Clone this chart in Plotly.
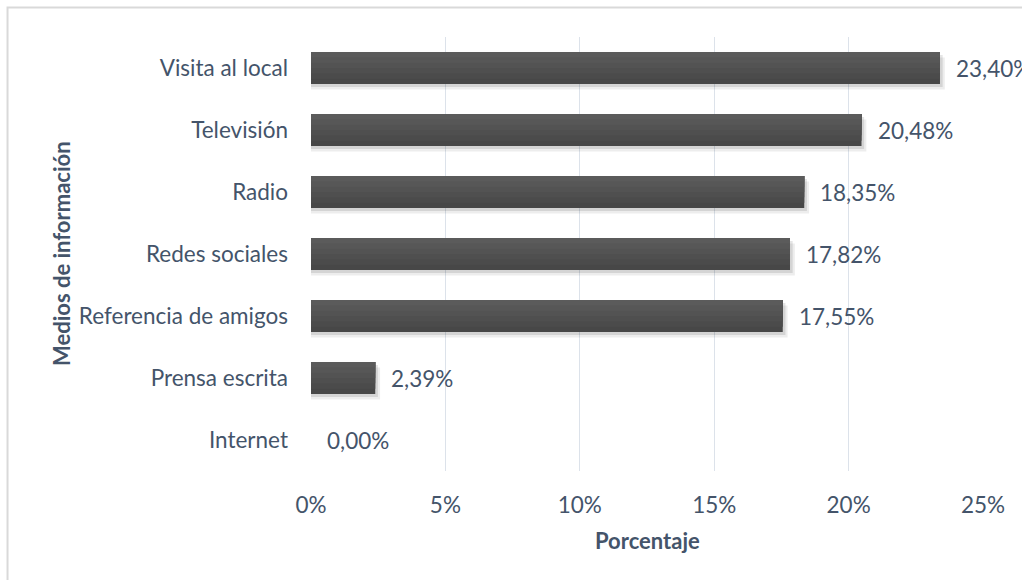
import plotly.graph_objects as go

# Information channels and share of respondents (%)
categorias = [
    "Visita al local",
    "Televisión",
    "Radio",
    "Redes sociales",
    "Referencia de amigos",
    "Prensa escrita",
    "Internet",
]
porcentajes = [23.40, 20.48, 18.35, 17.82, 17.55, 2.39, 0.00]
ticks_x = [0, 5, 10, 15, 20, 25]

TEXTO = "#44546A"
FUENTE = "Lato, 'Open Sans', sans-serif"
TAM = 22.5
ANCHO = 0.516

fig = go.Figure()

# soft drop shadow below each bar
for off, ext, alpha in [(0.09, 0.18, 0.07), (0.05, 0.10, 0.10)]:
    fig.add_trace(go.Bar(
        y=categorias,
        x=[v + ext if v > 0 else 0 for v in porcentajes],
        orientation="h",
        width=ANCHO,
        offset=-ANCHO / 2 + off,
        marker=dict(color=f"rgba(0,0,0,{alpha})", line=dict(width=0)),
        hoverinfo="skip",
        showlegend=False,
    ))

# bar body with a light-to-dark vertical gradient
tonos = ["#474747", "#4b4b4b", "#4f4f4f", "#535353", "#575757", "#5b5b5b"]
n = len(tonos)
for i, tono in enumerate(tonos):
    frac = 1 - i / n
    fig.add_trace(go.Bar(
        y=categorias,
        x=porcentajes,
        orientation="h",
        width=ANCHO * frac,
        offset=-ANCHO / 2,
        marker=dict(color=tono, line=dict(width=0)),
        hoverinfo="skip",
        showlegend=False,
    ))

# value labels
for cat, val in zip(categorias, porcentajes):
    fig.add_annotation(
        x=val, y=cat, xref="x", yref="y",
        text=f"{val:.2f}%".replace(".", ","),
        showarrow=False, xanchor="left", yanchor="middle", xshift=14,
        font=dict(family=FUENTE, size=TAM, color=TEXTO),
    )

# axis titles
fig.add_annotation(
    x=0.5, y=-0.159, xref="paper", yref="paper",
    text="<b>Porcentaje</b>", showarrow=False,
    xanchor="center", yanchor="middle",
    font=dict(family=FUENTE, size=22, color=TEXTO),
)
fig.add_annotation(
    x=-0.372, y=0.5, xref="paper", yref="paper",
    text="<b>Medios de información</b>", showarrow=False, textangle=-90,
    xanchor="center", yanchor="middle",
    font=dict(family=FUENTE, size=22, color=TEXTO),
)

# chart frame
fig.add_shape(
    type="rect", xref="paper", yref="paper",
    x0=-0.4516, y0=-0.4, x1=1.2, y1=1.068,
    line=dict(color="#D9D9D9", width=2), fillcolor="rgba(0,0,0,0)",
    layer="below",
)

fig.update_layout(
    width=1022, height=580,
    margin=dict(l=311, r=39, t=37, b=109),
    paper_bgcolor="white", plot_bgcolor="white",
    barmode="overlay",
    showlegend=False,
    font=dict(family=FUENTE, size=TAM, color=TEXTO),
    xaxis=dict(
        range=[0, 25], tickvals=ticks_x,
        ticktext=[f"{t}%" for t in ticks_x],
        showgrid=True, gridcolor="#DCE2EA", gridwidth=1,
        zeroline=False, showline=False, ticks="",
        ticklabelstandoff=18,
        tickfont=dict(family=FUENTE, size=TAM, color=TEXTO),
        fixedrange=True,
    ),
    yaxis=dict(
        autorange="reversed", showgrid=False, zeroline=False,
        showline=False, ticks="", ticklabelstandoff=22,
        tickfont=dict(family=FUENTE, size=TAM, color=TEXTO),
        fixedrange=True,
    ),
)

fig.write_html("out.html")
